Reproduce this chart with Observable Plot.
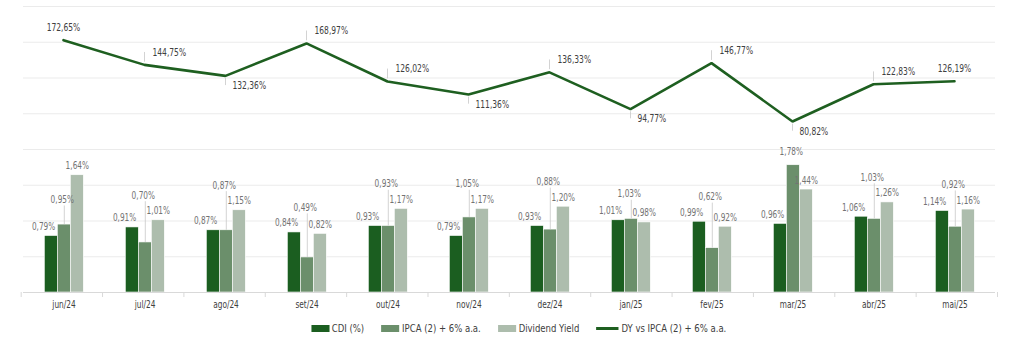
<!DOCTYPE html>
<html>
<head>
<meta charset="utf-8">
<script src="https://cdn.jsdelivr.net/npm/d3@7"></script>
<script src="https://cdn.jsdelivr.net/npm/@observablehq/plot@0.6"></script>
<style>
  body { margin: 0; background: #ffffff; }
  #chart { position: relative; width: 1024px; height: 344px; overflow: hidden; background: #fff;
           font-family: "Liberation Sans Narrow", "DejaVu Sans Condensed", Roboto, sans-serif; }
  #chart svg { position: absolute; left: 0; }
  .legend { position: absolute; left: 0; top: 320px; width: 1024px; height: 17px; display: flex;
            justify-content: center; align-items: center; gap: 20px; font-size: 11px; color: #404040;
            padding-left: 14px; box-sizing: border-box; transform: scaleX(0.86); transform-origin: 517px 50%; }
  .legend .item { display: flex; align-items: center; gap: 3px; white-space: nowrap; }
  .legend .sw { display: inline-block; width: 21px; height: 7px; }
  .legend .ln { display: inline-block; width: 26px; height: 2.5px; }
</style>
</head>
<body>
<div id="chart"></div>
<script>
// ---- data ----
const months = ["jun/24","jul/24","ago/24","set/24","out/24","nov/24","dez/24","jan/25","fev/25","mar/25","abr/25","mai/25"];
const cdi    = [0.79, 0.91, 0.87, 0.84, 0.93, 0.79, 0.93, 1.01, 0.99, 0.96, 1.06, 1.14];
const ipca   = [0.95, 0.70, 0.87, 0.49, 0.93, 1.05, 0.88, 1.03, 0.62, 1.78, 1.03, 0.92];
const dyld   = [1.64, 1.01, 1.15, 0.82, 1.17, 1.17, 1.20, 0.98, 0.92, 1.44, 1.26, 1.16];
const dyVsIpca = [172.65, 144.75, 132.36, 168.97, 126.02, 111.36, 136.33, 94.77, 146.77, 80.82, 122.83, 126.19];
const seriesNames = ["CDI (%)", "IPCA (2) + 6% a.a.", "Dividend Yield"];
const lineName = "DY vs IPCA (2) + 6% a.a.";
const barColors = ["#1b5e20", "#6b8f6b", "#adbdad"];
const lineColor = "#1e5f20";

// ---- helpers ----
const fmt = v => v.toFixed(2).replace(".", ",") + "%";
const W = 1024, H = 316, ML = 20.7, MR = 27, MT = 6, MB = 24;
const FONT = '"Liberation Sans Narrow", "DejaVu Sans Condensed", Roboto, sans-serif';
function condense(svg, k) {
  svg.querySelectorAll("text").forEach(t => {
    const len = t.getComputedTextLength();
    if (len > 0) { t.setAttribute("textLength", (len * k).toFixed(1)); t.setAttribute("lengthAdjust", "spacingAndGlyphs"); }
  });
}

const rows = months.flatMap((m, i) => [
  {month: m, series: seriesNames[0], value: cdi[i]},
  {month: m, series: seriesNames[1], value: ipca[i]},
  {month: m, series: seriesNames[2], value: dyld[i]}
]);
const cdiRows = months.map((m, i) => ({month: m, series: seriesNames[0], value: cdi[i]}));
const dyRows  = months.map((m, i) => ({month: m, series: seriesNames[2], value: dyld[i]}));
// IPCA label lifted so it does not collide with its neighbours
const ipcaRows = months.map((m, i) => {
  let lab = ipca[i] > cdi[i] + 0.3 ? ipca[i] + 0.15 : Math.max(cdi[i], ipca[i]) + 0.3;
  const dyLab = dyld[i] + 0.13;
  if (lab > dyLab - 0.17) lab = Math.max(lab, dyLab + 0.17);
  return {month: m, series: seriesNames[1], value: ipca[i], lab};
});

const chart = document.getElementById("chart");

// ---- bars (faceted by month) ----
const barPlot = Plot.plot({
  width: W, height: H, marginTop: MT, marginBottom: MB, marginLeft: ML, marginRight: MR,
  style: {background: "transparent", fontFamily: FONT, fontSize: "10px", color: "#404040"},
  fx: {domain: months, padding: 0, label: null, axis: "bottom", tickSize: 0, tickPadding: 8},
  x: {domain: seriesNames, paddingInner: 0, paddingOuter: 1.55, axis: null},
  y: {domain: [0, 4], axis: null},
  color: {domain: seriesNames, range: barColors},
  marks: [
    Plot.ruleY(d3.range(0.5, 4.01, 0.5), {stroke: "#ebebeb", strokeWidth: 1}),
    Plot.barY(rows, {fx: "month", x: "series", y: "value", fill: "series", stroke: "#ffffff", strokeWidth: 0.6}),
    Plot.ruleY([0], {stroke: "#d9d9d9", strokeWidth: 1}),
    // leaders for IPCA labels
    Plot.ruleX(ipcaRows.filter(d => d.lab - d.value > 0.22), {fx: "month", x: "series", y1: d => d.value, y2: d => d.lab - 0.04, stroke: "#c8c8c8", strokeWidth: 0.8}),
    Plot.text(cdiRows, {fx: "month", x: "series", y: "value", text: d => fmt(d.value), textAnchor: "end", lineAnchor: "bottom", dx: 4, dy: -6, fill: "#737373", fontSize: 10}),
    Plot.text(ipcaRows, {fx: "month", x: "series", y: "lab", text: d => fmt(d.value), lineAnchor: "bottom", dx: -2, fill: "#737373", fontSize: 10}),
    Plot.text(dyRows, {fx: "month", x: "series", y: "value", text: d => fmt(d.value), lineAnchor: "bottom", dy: -6, fill: "#737373", fontSize: 10})
  ]
});
barPlot.style.top = "0px";
chart.appendChild(barPlot);
condense(barPlot, 0.82);

// ---- category separator ticks ----
const sepPlot = Plot.plot({
  width: W, height: 5, marginTop: 0, marginBottom: 0, marginLeft: ML, marginRight: MR,
  style: {background: "transparent"},
  x: {domain: [0, months.length], axis: null},
  marks: [Plot.tickX(d3.range(months.length + 1), {x: d => d, stroke: "#d9d9d9"})]
});
sepPlot.style.top = (H - MB) + "px";
chart.appendChild(sepPlot);

// ---- line overlay (secondary scale) ----
const n = dyVsIpca.length;
const lineRows = months.map((m, i) => {
  const v = dyVsIpca[i];
  const end = i === 0 || i === n - 1;
  const isMin = !end && v < dyVsIpca[i - 1] && v < dyVsIpca[i + 1];
  return {month: m, value: v, end, isMin};
});
const above = lineRows.filter(d => !d.isMin && !d.end);
const below = lineRows.filter(d => d.isMin);
const ends = lineRows.filter(d => d.end);

const linePlot = Plot.plot({
  width: W, height: H, marginTop: MT, marginBottom: MB, marginLeft: ML, marginRight: MR,
  style: {background: "transparent", fontFamily: FONT},
  x: {type: "point", domain: months, padding: 0.5, axis: null},
  y: {domain: [-112.4, 210.7], axis: null},
  marks: [
    Plot.ruleX(above, {x: "month", y1: d => d.value + 3, y2: d => d.value + 14, stroke: "#c8c8c8", strokeWidth: 0.8}),
    Plot.ruleX(below, {x: "month", y1: d => d.value - 3, y2: d => d.value - 11, stroke: "#c8c8c8", strokeWidth: 0.8}),
    Plot.line(lineRows, {x: "month", y: "value", stroke: lineColor, strokeWidth: 2.6, strokeLinejoin: "miter"}),
    Plot.text(above, {x: "month", y: d => d.value + 14, text: d => fmt(d.value), textAnchor: "start", lineAnchor: "middle", dx: 8, fill: "#404040", fontSize: 10.5}),
    Plot.text(below, {x: "month", y: d => d.value - 11, text: d => fmt(d.value), textAnchor: "start", lineAnchor: "middle", dx: 7, fill: "#404040", fontSize: 10.5}),
    Plot.text(ends, {x: "month", y: "value", text: d => fmt(d.value), lineAnchor: "bottom", dy: -9, fill: "#404040", fontSize: 10.5})
  ]
});
linePlot.style.top = "0px";
chart.appendChild(linePlot);
condense(linePlot, 0.8);

// ---- legend ----
const legend = document.createElement("div");
legend.className = "legend";
seriesNames.forEach((s, i) => {
  const it = document.createElement("div"); it.className = "item";
  const sw = document.createElement("span"); sw.className = "sw"; sw.style.background = barColors[i];
  const tx = document.createElement("span"); tx.textContent = s;
  it.append(sw, tx); legend.appendChild(it);
});
{
  const it = document.createElement("div"); it.className = "item";
  const sw = document.createElement("span"); sw.className = "ln"; sw.style.background = lineColor;
  const tx = document.createElement("span"); tx.textContent = lineName;
  it.append(sw, tx); legend.appendChild(it);
}
chart.appendChild(legend);
</script>
</body>
</html>
